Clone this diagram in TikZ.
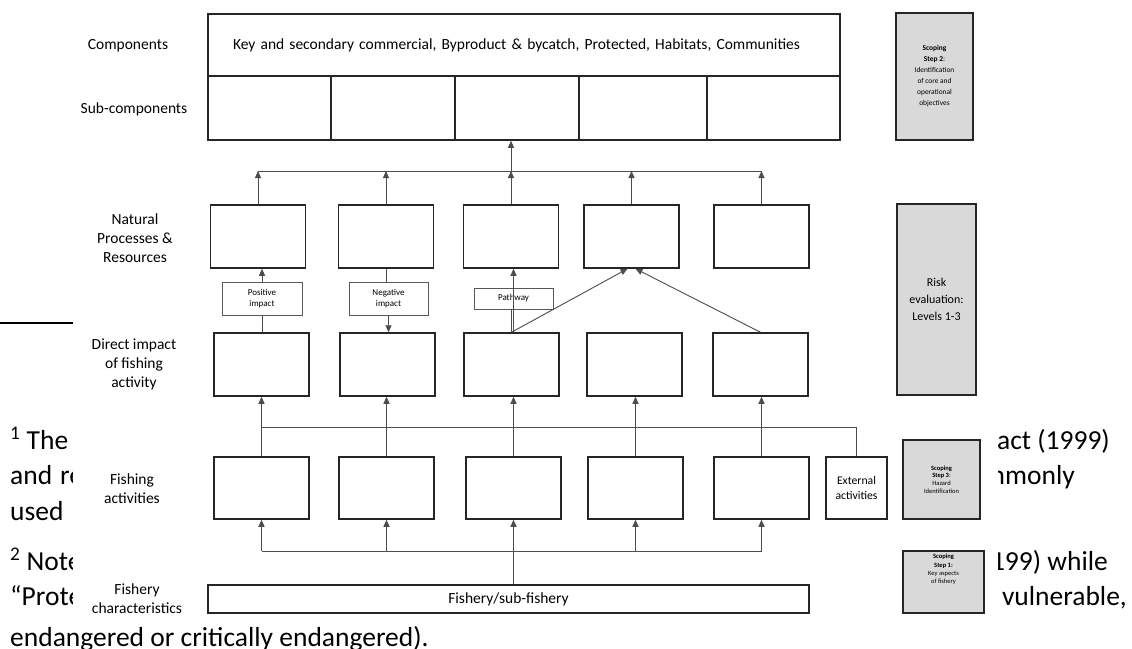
\documentclass[tikz,border=0pt]{standalone}
\usepackage{fontspec}
\setmainfont{Carlito}
\usetikzlibrary{arrows.meta,positioning}

\tikzset{
  box/.style={draw=black!85, line width=1.5pt, fill=white, minimum width=95, minimum height=63, inner sep=0pt},
  tag/.style={draw=black!65, line width=0.9pt, fill=white, align=center, inner sep=0pt, font=\fontsize{9}{11}\selectfont},
  scopebox/.style={draw=black!85, line width=1.5pt, fill=gray!30, align=center, inner sep=0pt},
  rowlabel/.style={align=center, inner sep=0pt, font=\fontsize{15.5}{19}\selectfont},
  fnote/.style={inner sep=0pt, font=\fontsize{27.5}{33}\selectfont},
  conn/.style={draw=black!70, line width=0.9pt},
  arr/.style={conn, -{Triangle[width=6pt,length=7pt]}}
}

\begin{document}
\begin{tikzpicture}[x=1pt,y=-1pt]
\useasboundingbox (0,0) rectangle (1132,648);
\clip (0,0) rectangle (1132,648);

% Page text behind the figure
\node[fnote, anchor=base west] (fnOne) at (10,449) {\textsuperscript{1} The};
\node[fnote, anchor=base west] (fnTwo) at (10,484) {and\hspace{8pt}re};
\node[fnote, anchor=base west] (fnThree) at (10,520) {used};
\node[fnote, anchor=base west] (fnFour) at (10,570) {\textsuperscript{2} Note};
\node[fnote, anchor=base west] (fnFive) at (10,605) {“Prote};
\node[fnote, anchor=base west] (fnSix) at (10,646) {endangered or critically endangered).};
\node[fnote, anchor=base east] (fnRa) at (1110,449) {act (1999)};
\node[fnote, anchor=base east] (fnRb) at (1075,484) {mmonly};
\node[fnote, anchor=base east] (fnRc) at (1108,570) {199) while};
\node[fnote, anchor=base east] (fnRd) at (1127,605) {vulnerable,};
\draw[line width=1.2pt] (0,323) -- (150,323);

% Figure background
\fill[white] (73,0) rectangle (998,619);

% Row labels
\node[rowlabel] (lblComp) at (128,46) {Components};
\node[rowlabel] (lblSub) at (134,109) {Sub-components};
\node[rowlabel] (lblNat) at (135,238) {Natural\\Processes \&\\Resources};
\node[rowlabel] (lblDir) at (134,364) {Direct impact\\of fishing\\activity};
\node[rowlabel] (lblAct) at (132,488.5) {Fishing\\activities};
\node[rowlabel] (lblFish) at (137,598.5) {Fishery\\characteristics};

% Components and sub-components
\node[box, minimum width=632, minimum height=62, text width=582, inner xsep=25, align=left,
  font=\fontsize{15.5}{19}\selectfont] (comp) at (524,45)
  {Key and secondary commercial, Byproduct \& bycatch, Protected, Habitats, Communities};
\foreach \x/\w [count=\i] in {269.5/123, 393/124, 517/124, 643/128, 773.5/133}
  \node[box, minimum width=\w, minimum height=64] (sub\i) at (\x,108) {};

% Natural processes, direct impacts, fishing activities
\foreach \x [count=\i] in {258,386,511,631.5,761.5}
  \node[box] (nat\i) at (\x,236.5) {};
\foreach \x [count=\i] in {261.5,387.5,511.5,634.5,760.5}
  \node[box] (dir\i) at (\x,364.5) {};
\foreach \x [count=\i] in {261.5,386.5,513.5,635.5,761.5}
  \node[box, minimum height=62] (act\i) at (\x,488) {};
\node[box, minimum width=61, minimum height=62, align=center,
  font=\fontsize{11.7}{14.3}\selectfont] (ext) at (856.5,488) {External\\activities};
\node[box, minimum width=601, minimum height=28,
  font=\fontsize{15.5}{19}\selectfont] (fish) at (508.5,599) {Fishery/sub-fishery};

% Impact tags
\node[tag, minimum width=80, minimum height=33] (pos) at (262,298.5) {Positive\\impact};
\node[tag, minimum width=79, minimum height=33] (neg) at (388.5,298.5) {Negative\\impact};
\node[tag, minimum width=79, minimum height=21] (path) at (513.5,298.5) {Pathway};

% Scoping steps
\node[scopebox, minimum width=77, minimum height=127, font=\fontsize{7.4}{11}\selectfont] (scopeTwo)
  at (934.5,76.5) {\textbf{Scoping}\\\textbf{Step 2}:\\Identification\\of core and\\operational\\objectives};
\node[scopebox, minimum width=79, minimum height=191, font=\fontsize{12}{17}\selectfont] (risk)
  at (936.5,299.5) {Risk\\evaluation:\\Levels 1-3};
\node[scopebox, minimum width=77, minimum height=79, font=\fontsize{6.5}{7.8}\selectfont] (scopeThree)
  at (941.5,479.5) {\textbf{Scoping}\\\textbf{Step 3}:\\Hazard\\Identification};
\node[scopebox, minimum width=81, minimum height=62] (scopeOne) at (943.5,582) {};
\node[align=center, inner sep=0pt, anchor=north, font=\fontsize{6.5}{8.3}\selectfont] (scopeOneText)
  at (943.5,554) {\textbf{Scoping}\\\textbf{Step 1:}\\Key aspects\\of fishery};

% Natural processes up to components
\coordinate (hubL) at (258,171);
\coordinate (hubR) at (762,171);
\draw[conn] (hubL) -- (hubR);
\foreach \i in {1,...,5}
  \draw[arr] (nat\i.north) -- (nat\i.north |- hubL);
\draw[arr] (nat3.north |- hubL) -- (nat3.north |- sub3.south);

% Direct impacts to natural processes
\draw[conn] (dir1.north -| pos.south) -- (pos.south);
\draw[arr] (pos.north) -- (pos.north |- nat1.south);
\draw[conn] (nat2.south) -- (nat2.south |- neg.north);
\draw[arr] (neg.south) -- (neg.south |- dir2.north);
\draw[conn] (dir3.north) -- (dir3.north |- path.south);
\draw[arr] (dir3.north -| path.north) -- (path.north |- nat3.south);
\draw[arr] (dir3.north) -- ([xshift=-4pt]nat4.south);
\draw[arr] (dir5.north) -- ([xshift=4pt]nat4.south);

% Fishing activities to direct impacts
\coordinate (midL) at (262,427);
\draw[conn] (midL) -| (ext.north);
\foreach \i in {1,...,5}
  \draw[arr] (act\i.north) -- (act\i.north |- dir\i.south);

% Fishery to fishing activities
\coordinate (lowL) at (262,551);
\coordinate (lowR) at (762,551);
\draw[conn] (lowL) -- (lowR);
\foreach \i in {1,2,4,5}
  \draw[arr] (act\i.south |- lowL) -- (act\i.south);
\draw[arr] (act3.south |- fish.north) -- (act3.south);
\end{tikzpicture}
\end{document}
